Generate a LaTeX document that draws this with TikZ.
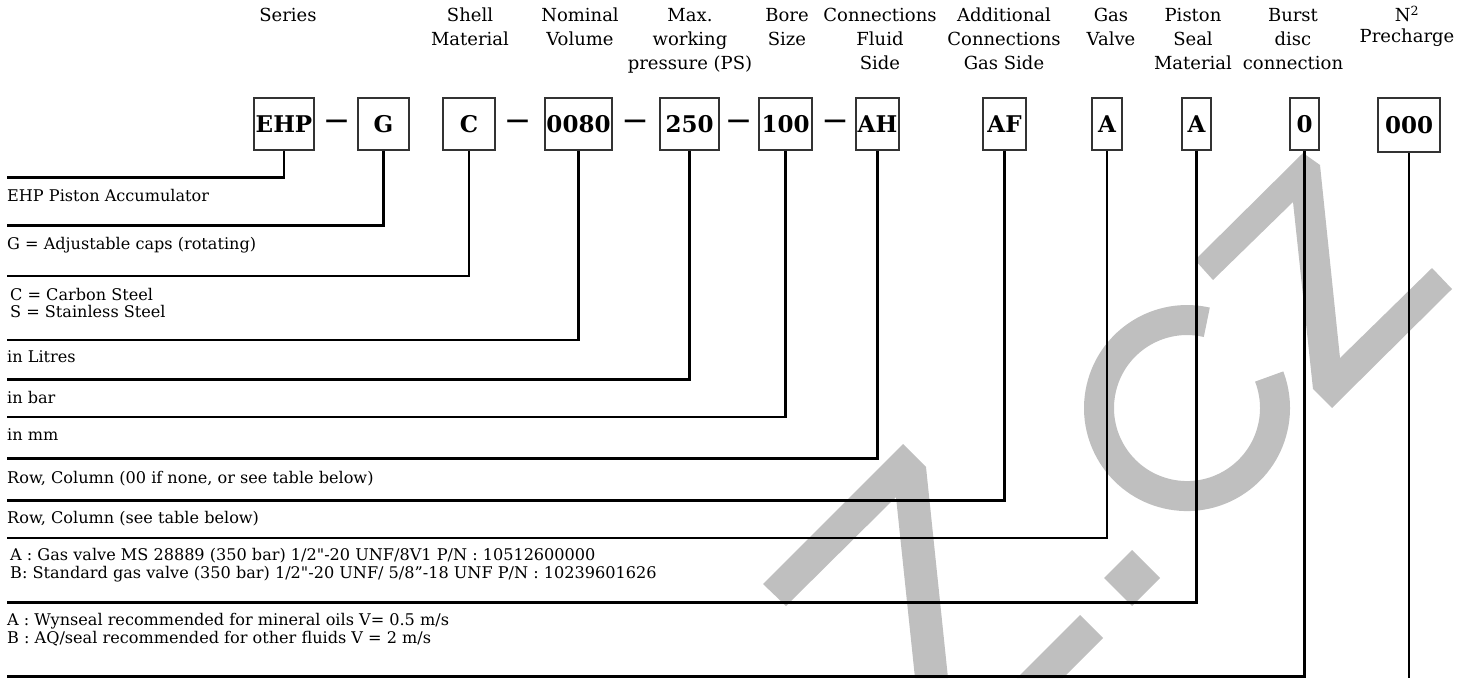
\documentclass[tikz,border=0pt]{standalone}
\usepackage{fontspec}
\setmainfont{DejaVu Serif}
\newcommand{\sq}{\XeTeXglyph\XeTeXcharglyph"22\relax}
\begin{document}
\begin{tikzpicture}[x=1pt,y=-1pt,
  codebox/.style={draw=black!80, line width=1.3pt, minimum height=52pt, inner sep=0pt,
    font=\bfseries\fontsize{23}{23}\selectfont},
  septxt/.style={inner sep=0pt, font=\bfseries\fontsize{23}{23}\selectfont},
  conn/.style={line width=2.7pt, black},
  hdr/.style={font=\fontsize{18}{24}\selectfont, align=center, inner sep=0pt, anchor=north},
  lbl/.style={font=\fontsize{16.1}{17}\selectfont, anchor=base west, inner sep=0pt},
  wm/.style={fill=black!25, draw=none}]
\useasboundingbox (0,0) rectangle (1460,678);
% watermark
\fill[wm] (763,584) -- (903,444) -- (926,467) -- (948,678) -- (915,678) -- (896,497) -- (786,606) -- cycle;
\fill[wm] (1132,550) -- (1160,578) -- (1132,606) -- (1104,578) -- cycle;
\fill[wm] (1080,615) -- (1103,638) -- (1063,678) -- (1017,678) -- cycle;
\draw[black!25, line width=30pt] (1206.8,322.3) arc[start angle=-77, end angle=-381, radius=88];
\fill[wm] (1195,260) -- (1303,153) -- (1320,165) -- (1340,358) -- (1432,268) -- (1452,289) -- (1332,408) -- (1313,389) -- (1293,202) -- (1213,280) -- cycle;
% headers
\node[hdr] (h1) at (288,4.8) {\strut Series};
\node[hdr] (h2) at (470,4.8) {\strut Shell\\Material};
\node[hdr] (h3) at (580,4.8) {\strut Nominal\\Volume};
\node[hdr] (h4) at (690,4.8) {\strut Max.\\working\\pressure (PS)};
\node[hdr] (h5) at (787,4.8) {\strut Bore\\Size};
\node[hdr] (h6) at (880,4.8) {\strut Connections\\Fluid\\Side};
\node[hdr] (h7) at (1004,4.8) {\strut Additional\\Connections\\Gas Side};
\node[hdr] (h8) at (1111,4.8) {\strut Gas\\Valve};
\node[hdr] (h9) at (1193,4.8) {\strut Piston\\Seal\\Material};
\node[hdr] (h10) at (1293,4.8) {\strut Burst\\disc\\connection};
\node[hdr, font=\fontsize{18}{21}\selectfont] (h11) at (1407,6) {\strut N\textsuperscript{2}\\Precharge};
% code boxes
\node[codebox, minimum width=60pt] (b1) at (284,124) {EHP};
\node[codebox, minimum width=51pt] (b2) at (383.5,124) {G};
\node[codebox, minimum width=52pt] (b3) at (469,124) {C};
\node[codebox, minimum width=67pt] (b4) at (578.5,124) {0080};
\node[codebox, minimum width=59pt] (b5) at (689.5,124) {250};
\node[codebox, minimum width=53pt] (b6) at (785.5,124) {100};
\node[codebox, minimum width=43pt] (b7) at (877.5,124) {AH};
\node[codebox, minimum width=43pt] (b8) at (1004.5,124) {AF};
\node[codebox, minimum width=30pt] (b9) at (1107,124) {A};
\node[codebox, minimum width=29pt] (b10) at (1196.5,124) {A};
\node[codebox, minimum width=29pt] (b11) at (1304.5,124) {0};
\node[codebox, minimum width=62pt, minimum height=54pt] (b12) at (1409,125) {000};
% separators
\node[septxt] (s1) at (336.5,124) {—};
\node[septxt] (s2) at (517.5,124) {—};
\node[septxt] (s3) at (635,124) {—};
\node[septxt] (s4) at (738.5,124) {—};
\node[septxt] (s5) at (835,124) {—};
% connector ends
\coordinate (e1) at (7,177.5);
\coordinate (e2) at (7,225.5);
\coordinate (e3) at (7,276);
\coordinate (e4) at (7,340);
\coordinate (e5) at (7,379.5);
\coordinate (e6) at (7,417);
\coordinate (e7) at (7,458.6);
\coordinate (e8) at (7,500.8);
\coordinate (e9) at (7,538);
\coordinate (e10) at (7,602.7);
\coordinate (e11) at (7,676.5);
\coordinate (e12) at (1409,678);
\draw[conn] (b1.south) |- (e1);
\draw[conn] (b2.south) |- (e2);
\draw[conn] (b3.south) |- (e3);
\draw[conn] (b4.south) |- (e4);
\draw[conn] (b5.south) |- (e5);
\draw[conn] (b6.south) |- (e6);
\draw[conn] (b7.south) |- (e7);
\draw[conn] (b8.south) |- (e8);
\draw[conn] (b9.south) |- (e9);
\draw[conn] (b10.south) |- (e10);
\draw[conn] (b11.south) |- (e11);
\draw[conn] (b12.south) -- (e12);
% labels
\node[lbl] (t1) at (7,201) {EHP Piston Accumulator};
\node[lbl] (t2) at (7,249) {G = Adjustable caps (rotating)};
\node[lbl] (t3a) at (10,300) {C = Carbon Steel};
\node[lbl] (t3b) at (10,317.5) {S = Stainless Steel};
\node[lbl] (t4) at (7,362) {in Litres};
\node[lbl] (t5) at (7,403.5) {in bar};
\node[lbl] (t6) at (7,440) {in mm};
\node[lbl] (t7) at (7,483.5) {Row, Column (00 if none, or see table below)};
\node[lbl] (t8) at (7,523.5) {Row, Column (see table below)};
\node[lbl] (t9a) at (10,560.7) {A : Gas valve MS 28889 (350 bar) 1/2\sq-20 UNF/8V1 P/N : 10512600000};
\node[lbl] (t9b) at (10,578.5) {B: Standard gas valve (350 bar) 1/2\sq-20 UNF/ 5/8”-18 UNF P/N : 10239601626};
\node[lbl] (t10a) at (7,625) {A : Wynseal recommended for mineral oils V= 0.5 m/s};
\node[lbl] (t10b) at (7,643) {B : AQ/seal recommended for other fluids V = 2 m/s};
\end{tikzpicture}
\end{document}
